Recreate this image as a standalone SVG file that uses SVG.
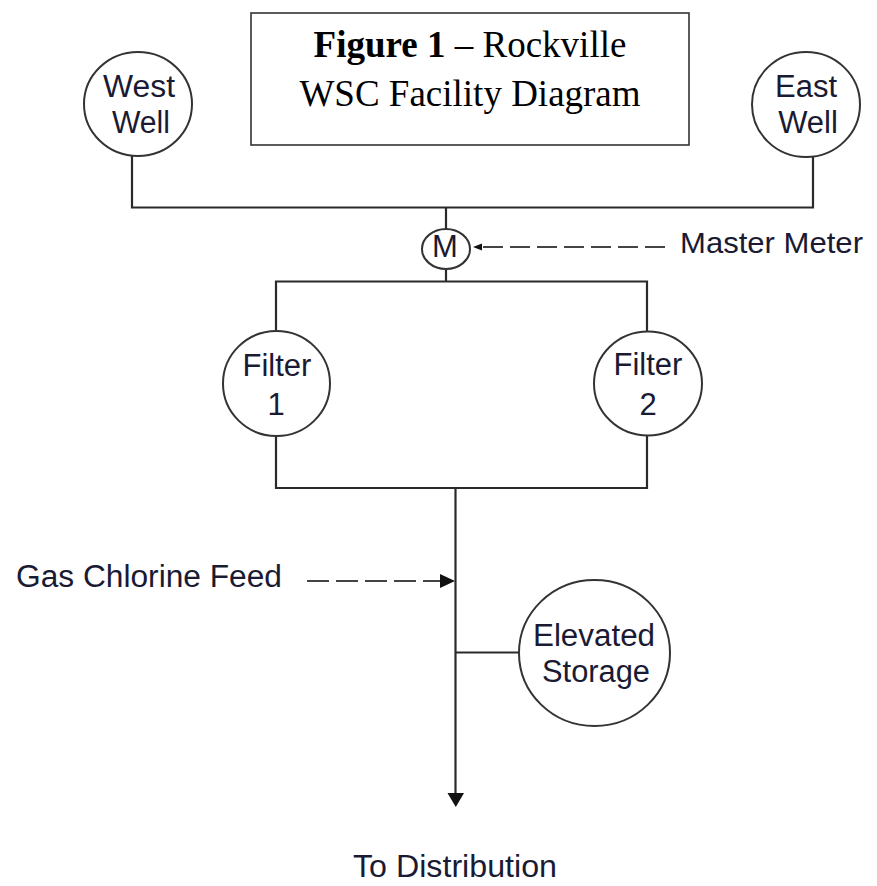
<svg xmlns="http://www.w3.org/2000/svg" width="877" height="886" viewBox="0 0 877 886">
<style>
.node{fill:#fff;stroke:#333;stroke-width:2}
.pipe{fill:none;stroke:#2a2a2a;stroke-width:2.2}
.dash{fill:none;stroke:#444;stroke-width:2.2}
.lbl{font-family:"Liberation Sans",Arial,sans-serif;font-size:31px;fill:#1a1a33;text-anchor:middle}
.start{text-anchor:start}
.title{font-family:"Liberation Serif","Times New Roman",serif;font-size:37px;fill:#000;text-anchor:middle}
.head{fill:#111;stroke:none}
</style>
<rect width="877" height="886" fill="#fff"/>
<g id="connectors">
<path class="pipe" d="M132 156 V207.5 H813 V157"/>
<path class="pipe" d="M446 207.5 V229"/>
<path class="pipe" d="M446 269 V281.5"/>
<path class="pipe" d="M276 331 V281.5 H647 V332"/>
<path class="pipe" d="M276 436 V488 H647 V435"/>
<path class="pipe" d="M455.5 488 V795" stroke="#111"/>
<polygon class="head" points="447.5,793 464,793 455.8,807"/>
<path class="pipe" d="M455.5 652.5 H519"/>
<path class="dash" d="M665 247 H478" stroke-dasharray="20 7"/>
<polygon class="head" points="482,243.5 482,250.5 473,247"/>
<path class="dash" d="M307 581 H442" stroke-dasharray="22 7"/>
<polygon class="head" points="440,574 440,588 455,581"/>
</g>
<g id="title">
<rect x="251" y="13" width="438" height="132" fill="#fff" stroke="#333" stroke-width="1.6"/>
<text class="title" x="470" y="57"><tspan font-weight="bold">Figure 1</tspan> – Rockville</text>
<text class="title" x="470" y="106">WSC Facility Diagram</text>
</g>
<g id="west-well">
<ellipse class="node" cx="138" cy="104" rx="54" ry="52"/>
<text class="lbl" x="139" y="97" textLength="72" lengthAdjust="spacingAndGlyphs">West</text>
<text class="lbl" x="141" y="133" textLength="58" lengthAdjust="spacingAndGlyphs">Well</text>
</g>
<g id="east-well">
<ellipse class="node" cx="806" cy="104.5" rx="54" ry="52.5"/>
<text class="lbl" x="806" y="97">East</text>
<text class="lbl" x="808" y="133">Well</text>
</g>
<g id="master-meter">
<ellipse class="node" cx="446" cy="249" rx="24" ry="20"/>
<text class="lbl" x="445" y="257" font-size="30">M</text>
</g>
<text id="master-meter-label" class="lbl start" x="680" y="253" style="font-size:29px" textLength="183" lengthAdjust="spacingAndGlyphs">Master Meter</text>
<g id="filter-1">
<ellipse class="node" cx="276.5" cy="383.5" rx="53.5" ry="52.5"/>
<text class="lbl" x="277" y="376">Filter</text>
<text class="lbl" x="276" y="415">1</text>
</g>
<g id="filter-2">
<ellipse class="node" cx="648" cy="383.5" rx="54" ry="52"/>
<text class="lbl" x="648" y="375">Filter</text>
<text class="lbl" x="648" y="415">2</text>
</g>
<text id="gas-chlorine-label" class="lbl start" x="16" y="587" textLength="266" lengthAdjust="spacingAndGlyphs">Gas Chlorine Feed</text>
<g id="elevated-storage">
<ellipse class="node" cx="594.5" cy="653" rx="75.5" ry="73"/>
<text class="lbl" x="594" y="646" textLength="122" lengthAdjust="spacingAndGlyphs">Elevated</text>
<text class="lbl" x="596" y="682" textLength="108" lengthAdjust="spacingAndGlyphs">Storage</text>
</g>
<text id="distribution-label" class="lbl" x="455" y="877" textLength="204" lengthAdjust="spacingAndGlyphs">To Distribution</text>
</svg>
